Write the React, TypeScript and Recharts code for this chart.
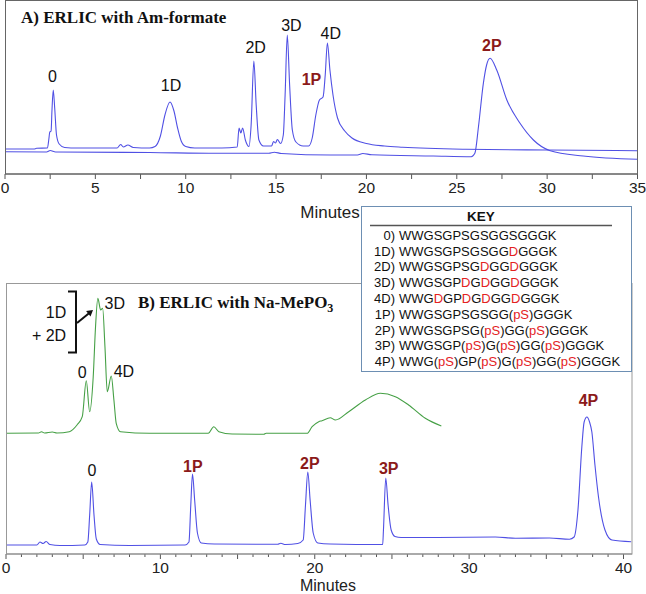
import React from 'react';
import { LineChart, Line, XAxis, YAxis, ReferenceDot } from 'recharts';

type Pt = [number, number];

// A) ERLIC with Am-formate — [minutes, signal]
const amFormateRunA: Pt[] = [
  [0, 24], [1.6, 24], [1.75, 24.7], [2.35, 25], [2.42, 33], [2.48, 41], [2.55, 42],
  [2.6, 63], [2.67, 83], [2.75, 65], [2.85, 38], [3.0, 29], [3.3, 25.5], [4.0, 25],
  [5.0, 25], [6.2, 25], [6.4, 28.5], [6.55, 26], [6.8, 28], [7.1, 25.5], [8.0, 25],
  [8.3, 26.5], [8.6, 37], [8.85, 58], [9.13, 71], [9.35, 62], [9.55, 45], [9.75, 32],
  [10.0, 26.5], [10.5, 25], [12.0, 25], [12.85, 26], [12.95, 45], [13.05, 40],
  [13.15, 45], [13.3, 33], [13.5, 26.5], [13.62, 48], [13.77, 112], [13.9, 68],
  [14.05, 33], [14.3, 27], [14.75, 27], [14.86, 31.5], [14.97, 30], [15.07, 33.5],
  [15.25, 29.5], [15.4, 38], [15.5, 78], [15.62, 138], [15.75, 88], [15.9, 43],
  [16.1, 31], [16.5, 27], [16.8, 27], [17.0, 35], [17.2, 58], [17.4, 73], [17.6, 76],
  [17.72, 98], [17.84, 130], [17.98, 103], [18.15, 78], [18.4, 55], [18.8, 42],
  [19.2, 35], [20.0, 29.5], [21.0, 27], [22.0, 25.7], [25.5, 23.7], [30.0, 23], [35.0, 22.3],
];

const amFormateRunB: Pt[] = [
  [0, 21.3], [2.3, 21], [2.5, 22.5], [2.8, 21], [8, 20.5], [11.7, 19.7], [14.6, 19.7],
  [14.9, 20.7], [15.3, 19.5], [18, 18], [19.5, 18], [19.8, 19.5], [20.3, 18.2],
  [23.7, 17], [25.8, 16.3], [26.0, 19.7], [26.2, 46.3], [26.47, 89.7], [26.65, 108],
  [26.84, 114.7], [27.21, 103], [27.77, 73], [28.5, 49.7], [29.24, 33], [30.17, 22.3],
  [32.0, 17], [35.0, 13.7],
];

// B) ERLIC with Na-MePO3 — [minutes, signal]
const naMePO3Upper: Pt[] = [
  [0, 119.7], [2.1, 120], [2.3, 121.3], [2.5, 120], [3.0, 121], [3.3, 120], [4.1, 121.3],
  [4.6, 128], [4.94, 136.3], [5.2, 172.3], [5.42, 141.3], [5.65, 176.3], [5.8, 226.3],
  [5.95, 254.7], [6.13, 243], [6.26, 244.7], [6.41, 206.3], [6.56, 161.3], [6.82, 177],
  [6.99, 153], [7.14, 129.7], [7.42, 121.3], [9.3, 119.7], [13.1, 119.7], [13.46, 126.3],
  [13.79, 121.3], [14.65, 119], [16.7, 118.7], [16.85, 119.7], [19.5, 119.7],
  [19.83, 126.3], [20.26, 131.3], [20.47, 132.3], [21.0, 135.3], [21.34, 133],
  [22.2, 141.3], [23.28, 153], [24.25, 159.7], [25.22, 156.3], [26.08, 148],
  [27.16, 134.7], [28.2, 127],
];

const naMePO3Lower: Pt[] = [
  [0, 8], [2.0, 8], [2.2, 11], [2.4, 9.5], [2.6, 11.5], [2.85, 8.5], [3.5, 7.5],
  [5.1, 8], [5.3, 11], [5.42, 38], [5.55, 71], [5.7, 38], [5.85, 14], [6.1, 8.5],
  [8, 7.5], [11.6, 8], [11.85, 11], [11.97, 48], [12.08, 79], [12.22, 53], [12.4, 20],
  [12.65, 10], [13.5, 9], [17.6, 8.7], [17.8, 9.7], [18.1, 8.5], [18.9, 9.5],
  [19.25, 13], [19.4, 48], [19.55, 81], [19.7, 53], [19.9, 20], [20.2, 10], [21, 9],
  [24.4, 8.5], [24.45, 23], [24.6, 75], [24.75, 48], [24.95, 23], [25.2, 16.5],
  [25.6, 15.5], [28, 15.5], [31.7, 16], [33, 14.7], [35.2, 15], [36.5, 13.7],
  [36.8, 16], [37.05, 43], [37.3, 106], [37.45, 131], [37.63, 136], [37.8, 131],
  [37.95, 121], [38.15, 88], [38.38, 56], [38.8, 23], [39.25, 13], [40.5, 11.3],
];

// peak labels: [text, minutes, signal, phospho]
const peakLabelsA: [string, number, number, boolean][] = [
  ['0', 2.62, 97, false], ['1D', 9.19, 88, false], ['2D', 13.87, 125.3, false],
  ['3D', 15.85, 148, false], ['1P', 16.96, 93.7, true], ['4D', 18.03, 139.7, false],
  ['2P', 26.94, 128, true],
];
const peakLabelsB: [string, number, number, boolean][] = [
  ['0', 4.94, 180.3, false], ['3D', 7.05, 249.7, false], ['4D', 7.64, 182, false],
  ['0', 5.57, 83, false], ['1P', 12.1, 87, true], ['2P', 19.68, 90, true],
  ['3P', 24.79, 85, true], ['4P', 37.73, 153, true],
];

const ticksA = [0, 2.5, 5, 7.5, 10, 12.5, 15, 17.5, 20, 22.5, 25, 27.5, 30, 32.5, 35];
const ticksB = Array.from({ length: 41 }, (_, i) => i);

const keyLabels = ['0)', '1D)', '2D)', '3D)', '4D)', '1P)', '2P)', '3P)', '4P)'];
const keySequences = [
  'WWGSGPSGSGGSGGGK',
  'WWGSGPSGSGGDGGGK',
  'WWGSGPSGDGGDGGGK',
  'WWGSGPDGDGGDGGGK',
  'WWGDGPDGDGGDGGGK',
  'WWGSGPSGSGG(pS)GGGK',
  'WWGSGPSG(pS)GG(pS)GGGK',
  'WWGSGP(pS)G(pS)GG(pS)GGGK',
  'WWG(pS)GP(pS)G(pS)GG(pS)GGGK',
];

const SANS = "Arial, 'Liberation Sans', Helvetica, sans-serif";
const SERIF = "'Times New Roman', 'Liberation Serif', serif";
const BLUE = '#5050e4';
const GREEN = '#46a046';
const MAROON = '#8b1a1a';
const RED = '#e3221f';

const toPoints = (pts: Pt[]) => pts.map(([t, v]) => ({ t, v }));

const isMultiple = (v: number, step: number) => Math.abs(v / step - Math.round(v / step)) < 1e-6;

// tick mark + label drawn together so minor/major lengths can differ
const makeTick = (labelEvery: number, majorEvery: number) => (props: any) => {
  const { x, y, payload } = props;
  const v = payload.value;
  const len = isMultiple(v, majorEvery) ? 5 : 3;
  return (
    <g>
      <line x1={x} x2={x} y1={y} y2={y + len} stroke="#555" strokeWidth={1} />
      {isMultiple(v, labelEvery) && (
        <text x={x} y={y + 18.5} textAnchor="middle" fontSize={15.5} fill="#222" fontFamily={SANS}>
          {v}
        </text>
      )}
    </g>
  );
};

const peakText = (label: string, phospho: boolean) => (p: any) => (
  <text
    x={p.cx}
    y={p.cy}
    textAnchor="middle"
    dominantBaseline="central"
    fontSize={16}
    fontWeight={phospho ? 'bold' : 'normal'}
    fill={phospho ? MAROON : '#111'}
    fontFamily={SANS}
  >
    {label}
  </text>
);

const renderSequence = (seq: string) =>
  seq.split(/(D|pS)/).filter((s) => s.length > 0).map((part, i) => (
    <tspan key={i} fill={part === 'D' || part === 'pS' ? RED : '#111'}>{part}</tspan>
  ));

export default function App() {
  return (
    <div style={{ position: 'absolute', left: 0, top: 0, width: 646, height: 594, background: '#fff' }}>
      <div style={{ position: 'absolute', left: 0, top: 0 }}>
        <LineChart width={646} height={230} margin={{ top: 1, right: 8.5, bottom: 26, left: 5 }}>
          <XAxis
            type="number"
            dataKey="t"
            domain={[0, 35]}
            allowDataOverflow
            ticks={ticksA}
            interval={0}
            height={30}
            tickSize={0}
            tickMargin={0}
            tickLine={false}
            axisLine={{ stroke: '#555' }}
            tick={makeTick(5, 2.5)}
          />
          <YAxis hide type="number" domain={[-1, 172]} allowDataOverflow />
          <Line data={toPoints(amFormateRunA)} dataKey="v" type="monotone" stroke={BLUE} strokeWidth={1.1} dot={false} isAnimationActive={false} />
          <Line data={toPoints(amFormateRunB)} dataKey="v" type="monotone" stroke={BLUE} strokeWidth={1.1} dot={false} isAnimationActive={false} />
          {peakLabelsA.map(([label, t, v, phospho], i) => (
            <ReferenceDot key={i} x={t} y={v} r={0} ifOverflow="visible" shape={peakText(label, phospho)} />
          ))}
        </LineChart>
      </div>

      <div style={{ position: 'absolute', left: 0, top: 270 }}>
        <LineChart width={646} height={324} margin={{ top: 14, right: 14, bottom: 15, left: 6 }}>
          <XAxis
            type="number"
            dataKey="t"
            domain={[0, 40.55]}
            allowDataOverflow
            ticks={ticksB}
            interval={0}
            height={25}
            tickSize={0}
            tickMargin={0}
            tickLine={false}
            axisLine={{ stroke: '#777' }}
            tick={makeTick(10, 5)}
          />
          <YAxis hide type="number" domain={[-1, 269]} allowDataOverflow />
          <Line data={toPoints(naMePO3Upper)} dataKey="v" type="monotone" stroke={GREEN} strokeWidth={1.1} dot={false} isAnimationActive={false} />
          <Line data={toPoints(naMePO3Lower)} dataKey="v" type="monotone" stroke={BLUE} strokeWidth={1.1} dot={false} isAnimationActive={false} />
          {peakLabelsB.map(([label, t, v, phospho], i) => (
            <ReferenceDot key={i} x={t} y={v} r={0} ifOverflow="visible" shape={peakText(label, phospho)} />
          ))}
        </LineChart>
      </div>

      <svg width={646} height={594} style={{ position: 'absolute', left: 0, top: 0, pointerEvents: 'none' }}>
        {/* frames */}
        <rect x={5.5} y={0.5} width={632} height={173.5} fill="none" stroke="#666" />
        <rect x={6.5} y={283.5} width={625.5} height={270.5} fill="none" stroke="#999" />

        <text x={21} y={22.5} fontFamily={SERIF} fontWeight="bold" fontSize={17} fill="#111">
          A) ERLIC with Am-formate
        </text>
        <text x={138} y={308} fontFamily={SERIF} fontWeight="bold" fontSize={17} fill="#111">
          B) ERLIC with Na-MePO<tspan dy={4} fontSize={12}>3</tspan>
        </text>

        <text x={330} y={218} textAnchor="middle" fontFamily={SANS} fontSize={17} fill="#222">Minutes</text>
        <text x={328} y={590.5} textAnchor="middle" fontFamily={SANS} fontSize={16} fill="#222">Minutes</text>

        {/* bracket for co-eluting 1D + 2D */}
        <text x={56} y={312} textAnchor="middle" dominantBaseline="central" fontFamily={SANS} fontSize={16} fill="#111">1D</text>
        <text x={49} y={335} textAnchor="middle" dominantBaseline="central" fontFamily={SANS} fontSize={16} fill="#111">+ 2D</text>
        <path d="M68 291.5 H76 V352.5 H68" fill="none" stroke="#111" strokeWidth={2} />
        <line x1={77} y1={323} x2={89} y2={313.2} stroke="#111" strokeWidth={2} />
        <polygon points="93,310 90.5,316.5 86.1,311.1" fill="#111" />

        {/* key */}
        <rect x={361.5} y={206.5} width={270} height={165} fill="#fff" stroke="#6d8fb3" />
        <text x={481} y={221} textAnchor="middle" fontFamily={SANS} fontWeight="bold" fontSize={13.5} fill="#111">KEY</text>
        <line x1={370} x2={612} y1={225.5} y2={225.5} stroke="#555" strokeWidth={1.5} />
        {keyLabels.map((label, i) => (
          <g key={label} fontFamily={SANS} fontSize={13}>
            <text x={395} y={239.7 + i * 15.8} textAnchor="end" fill="#111">{label}</text>
            <text x={399} y={239.7 + i * 15.8} fill="#111">{renderSequence(keySequences[i])}</text>
          </g>
        ))}
      </svg>
    </div>
  );
}
